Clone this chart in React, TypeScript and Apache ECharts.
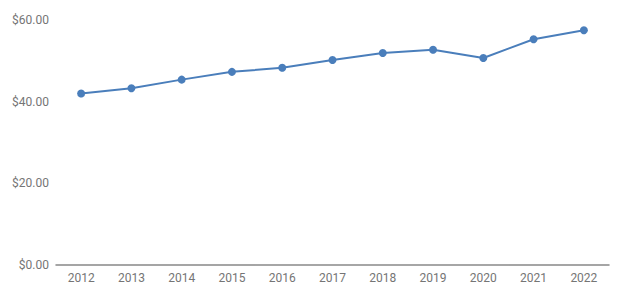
import React, { useEffect, useRef } from "react";
import * as echarts from "echarts";

const years = ["2012", "2013", "2014", "2015", "2016", "2017", "2018", "2019", "2020", "2021", "2022"];
const prices = [42.0, 43.3, 45.4, 47.3, 48.3, 50.2, 51.9, 52.7, 50.7, 55.3, 57.5];
const yTicks = [0, 20, 40, 60];

export default function App() {
  const ref = useRef<HTMLDivElement>(null);
  useEffect(() => {
    const chart = echarts.init(ref.current!, null, { renderer: "svg" });
    chart.setOption({
      animation: false,
      grid: { left: 56, right: 15, top: 20, bottom: 32 },
      xAxis: {
        type: "category",
        data: years,
        boundaryGap: true,
        axisLine: { lineStyle: { color: "#888888", width: 1.5 } },
        axisTick: { show: false },
        axisLabel: { color: "#757575", fontFamily: "Roboto", fontSize: 12, margin: 7 },
      },
      yAxis: {
        type: "value",
        min: yTicks[0],
        max: yTicks[yTicks.length - 1],
        interval: 20,
        splitLine: { show: false },
        axisLine: { show: false },
        axisTick: { show: false },
        axisLabel: {
          color: "#757575",
          fontFamily: "Roboto",
          fontSize: 12,
          margin: 7,
          formatter: (v: number) => "$" + v.toFixed(2),
        },
      },
      series: [
        {
          type: "line",
          data: prices,
          symbol: "circle",
          symbolSize: 8,
          lineStyle: { color: "#4a7ebb", width: 2 },
          itemStyle: { color: "#4a7ebb" },
        },
      ],
    });
    return () => chart.dispose();
  }, []);
  return (
    <div
      ref={ref}
      style={{ position: "absolute", left: 0, top: 0, width: 624, height: 297, background: "#ffffff" }}
    />
  );
}
